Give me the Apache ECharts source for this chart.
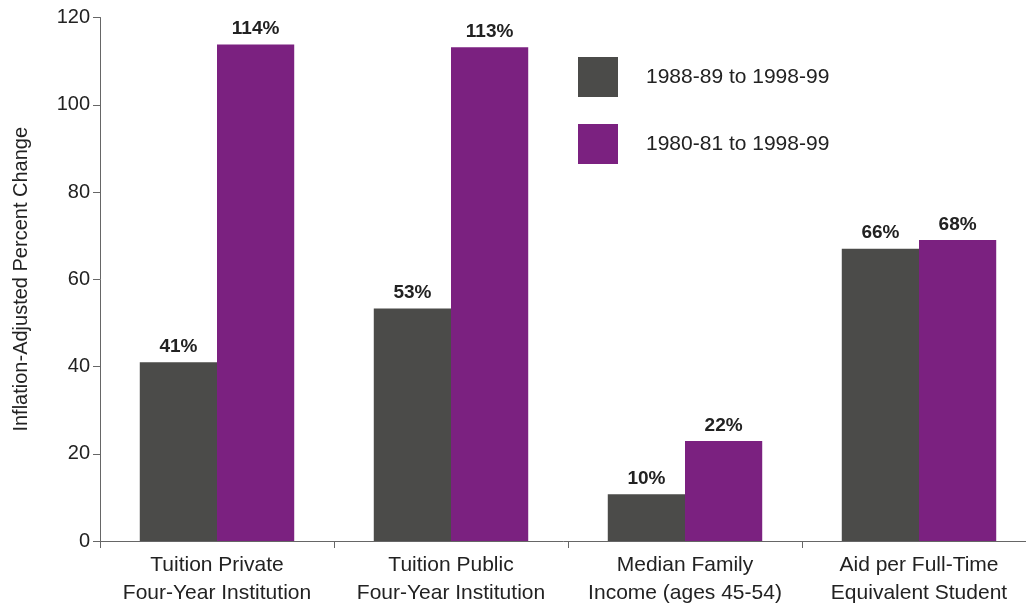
<!DOCTYPE html>
<html>
<head>
<meta charset="utf-8">
<script src="https://cdn.jsdelivr.net/npm/echarts@6/dist/echarts.min.js"></script>
<style>
  html, body { margin: 0; padding: 0; background: #fff; }
  #chart { width: 1026px; height: 606px; }
</style>
</head>
<body>
<div id="chart"></div>
<script>
// categories and values
var categories = [
  'Tuition Private\nFour-Year Institution',
  'Tuition Public\nFour-Year Institution',
  'Median Family\nIncome (ages 45-54)',
  'Aid per Full-Time\nEquivalent Student'
]
var seriesNames = ['1988-89 to 1998-99', '1980-81 to 1998-99']
var recentValues = [41, 53.3, 10.7, 67]
var longValues = [113.8, 113.2, 22.9, 69]
var recentLabels = ['41%', '53%', '10%', '66%']
var longLabels = ['114%', '113%', '22%', '68%']
var yTicks = [0, 20, 40, 60, 80, 100, 120]

var font = "'Liberation Sans', Arial, sans-serif"
var colorData = ['#4b4b49', '#7b2180']

var chart = echarts.init(document.getElementById('chart'))

function labelOf (texts) {
  return {
    show: true,
    position: 'top',
    distance: 6,
    fontFamily: font,
    fontSize: 19,
    fontWeight: 'bold',
    color: '#222',
    formatter: function (p) { return texts[p.dataIndex] }
  }
}

var option = {
  animation: false,
  backgroundColor: '#fff',
  // plot runs past the right edge in the original scan
  grid: {
    left: 100,
    width: 936,
    top: 17.5,
    bottom: 65,
    outerBoundsMode: 'none',
    containLabel: false
  },
  legend: {
    orient: 'vertical',
    left: 578,
    top: 57,
    padding: 0,
    itemWidth: 40,
    itemHeight: 40,
    itemGap: 27,
    icon: 'rect',
    data: seriesNames,
    textStyle: {
      fontFamily: font,
      fontSize: 21,
      color: '#222',
      padding: [0, 0, 0, 23]
    }
  },
  xAxis: {
    type: 'category',
    data: categories,
    axisLine: { lineStyle: { color: '#666', width: 1 } },
    axisTick: { show: true, length: 7, lineStyle: { color: '#666' } },
    axisLabel: {
      interval: 0,
      fontFamily: font,
      fontSize: 21,
      color: '#222',
      lineHeight: 28,
      margin: 10
    }
  },
  yAxis: {
    type: 'value',
    min: yTicks[0],
    max: yTicks[yTicks.length - 1],
    interval: 20,
    name: 'Inflation-Adjusted Percent Change',
    nameLocation: 'middle',
    nameGap: 69,
    nameTextStyle: { fontFamily: font, fontSize: 20, color: '#222' },
    axisLine: { show: true, lineStyle: { color: '#666', width: 1 } },
    axisTick: { show: true, length: 7, lineStyle: { color: '#666' } },
    splitLine: { show: false },
    axisLabel: {
      fontFamily: font,
      fontSize: 20,
      color: '#222',
      margin: 10
    }
  },
  series: [{
    name: seriesNames[0],
    type: 'bar',
    barGap: 0,
    barCategoryGap: '34%',
    itemStyle: { color: colorData[0] },
    label: labelOf(recentLabels),
    data: recentValues
  }, {
    name: seriesNames[1],
    type: 'bar',
    barGap: 0,
    barCategoryGap: '34%',
    itemStyle: { color: colorData[1] },
    label: labelOf(longLabels),
    data: longValues
  }]
}
chart.setOption(option)
</script>
</body>
</html>
